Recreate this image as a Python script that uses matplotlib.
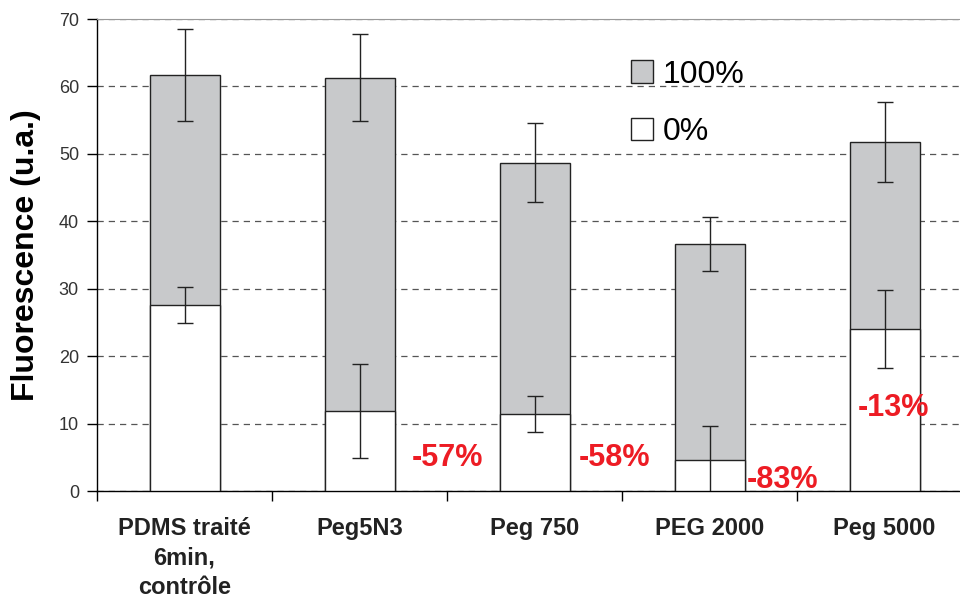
import numpy as np
import matplotlib.pyplot as plt

categories = ["PDMS traité\n6min,\ncontrôle", "Peg5N3", "Peg 750", "PEG 2000", "Peg 5000"]
full_vals = [61.7, 61.3, 48.7, 36.6, 51.8]      # 100%
full_err = [6.8, 6.5, 5.9, 4.0, 5.9]
zero_vals = [27.6, 11.9, 11.4, 4.6, 24.0]       # 0%
zero_err = [2.7, 7.0, 2.7, 5.1, 5.8]
drop_labels = ["-57%", "-58%", "-83%", "-13%"]
drop_x = [1.5, 2.46, 3.42, 4.05]
drop_y = [4.9, 4.9, 1.6, 12.3]

plt.rcParams["font.family"] = ["Liberation Sans", "DejaVu Sans"]

fig = plt.figure(figsize=(9.6, 6), dpi=100)
ax = fig.add_axes([97 / 960, 109 / 600, 875 / 960, 472 / 600])

x = np.arange(len(categories))
w = 0.4
grey = "#c8c9cb"
edge = "#222222"

ax.bar(x, full_vals, w, color=grey, edgecolor=edge, linewidth=1.0, zorder=2, label="100%")
ax.errorbar(x, full_vals, yerr=full_err, fmt="none", ecolor=edge,
            elinewidth=1.0, capsize=6, capthick=1.0, zorder=3)
ax.bar(x, zero_vals, w, color="white", edgecolor=edge, linewidth=1.0, zorder=4, label="0%")
ax.errorbar(x, zero_vals, yerr=zero_err, fmt="none", ecolor=edge,
            elinewidth=1.0, capsize=6, capthick=1.0, zorder=5)

for txt, tx, ty in zip(drop_labels, drop_x, drop_y):
    ax.text(tx, ty, txt, color="#ed1c24", fontsize=22, fontweight="bold",
            ha="center", va="center", zorder=6, clip_on=False)

ax.set_xlim(-0.5, len(categories) - 0.5)
ax.set_ylim(0, 70)
ax.set_yticks(range(0, 71, 10))
ax.yaxis.grid(True, linestyle=(0, (5, 4)), color="#555555", linewidth=0.9, zorder=0)
ax.set_axisbelow(True)

ax.set_xticks(x)
ax.set_xticklabels(categories, fontsize=17, fontweight="bold", linespacing=1.34,
                   color="#222222")
ax.set_xticks(np.arange(-0.5, len(categories), 1), minor=True)
ax.tick_params(axis="x", which="major", length=0, pad=19)
ax.tick_params(axis="x", which="minor", length=7, width=1, direction="out")
ax.tick_params(axis="y", length=7, width=1, direction="out", labelsize=13,
               labelcolor="#333333", pad=6)

ax.spines["right"].set_visible(False)
ax.spines["top"].set_color("#999999")
ax.spines["top"].set_linewidth(0.8)
ax.spines["left"].set_linewidth(1)
ax.spines["bottom"].set_linewidth(1)

ax.set_ylabel("Fluorescence (u.a.)", fontsize=23, fontweight="bold")
ax.yaxis.set_label_coords(-0.064, 0.5)

ax.legend(loc="upper left", bbox_to_anchor=(618 / 960, 1 - 47 / 600),
          bbox_transform=fig.transFigure, frameon=False, fontsize=23,
          handlelength=0.7, handleheight=0.7, handletextpad=0.3,
          labelspacing=0.85, borderaxespad=0)

fig.savefig("out.png", dpi=100)
